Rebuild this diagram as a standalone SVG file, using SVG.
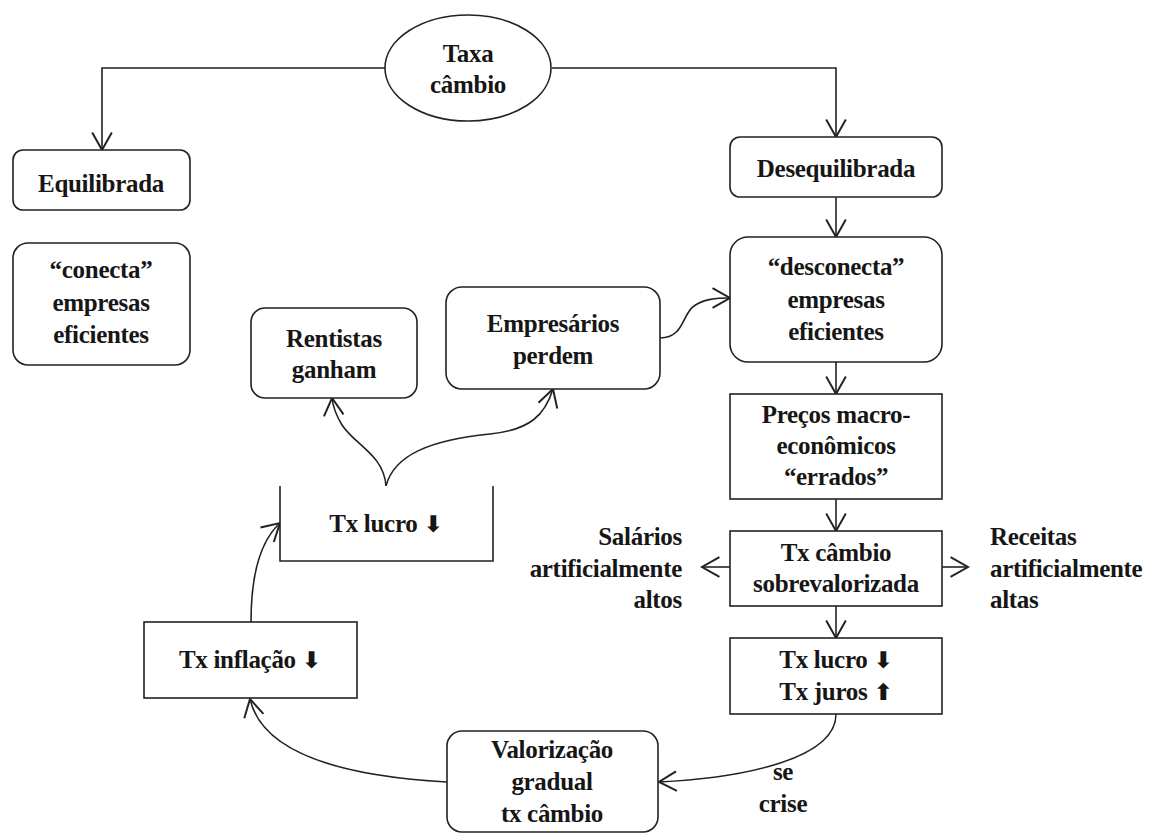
<svg xmlns="http://www.w3.org/2000/svg" width="1149" height="833" viewBox="0 0 1149 833">
<style>
  .box{fill:#fff;stroke:#222;stroke-width:1.6}
  .ln{fill:none;stroke:#222;stroke-width:1.6}
  .t{font-family:'Liberation Serif','Times New Roman',serif;font-weight:bold;font-size:25px;fill:#161616;letter-spacing:-0.3px}
  .c{text-anchor:middle}
  .r{text-anchor:end}
  .ar{font-family:'DejaVu Sans',sans-serif;font-weight:bold;font-size:23px;letter-spacing:0}
</style>
<defs>
  <marker id="ah" markerUnits="userSpaceOnUse" markerWidth="24" markerHeight="24" viewBox="-18 -11 20 22" refX="0" refY="0" orient="auto">
    <path d="M-16,-9 L0,0 L-16,9" fill="none" stroke="#222" stroke-width="1.8"/>
  </marker>
</defs>
<rect width="1149" height="833" fill="#fff"/>

<g id="connectors">
  <path class="ln" d="M385,68 H102 V150" marker-end="url(#ah)"/>
  <path class="ln" d="M552,68 H836 V137" marker-end="url(#ah)"/>
  <path class="ln" d="M836,197 V237" marker-end="url(#ah)"/>
  <path class="ln" d="M836,362 V394" marker-end="url(#ah)"/>
  <path class="ln" d="M836,499 V531" marker-end="url(#ah)"/>
  <path class="ln" d="M836,606 V638" marker-end="url(#ah)"/>
  <path class="ln" d="M730,567 H702" marker-end="url(#ah)"/>
  <path class="ln" d="M942,567 H968" marker-end="url(#ah)"/>
  <path class="ln" d="M660,338 C684,338 682,314 694,306 C704,299 716,298 730,298" marker-end="url(#ah)"/>
  <path class="ln" d="M386,486 C384,455 355,445 342,425 C336,415 333,408 332,398" marker-end="url(#ah)"/>
  <path class="ln" d="M386,486 C394,455 430,440 490,434 C530,430 545,415 553,389" marker-end="url(#ah)"/>
  <path class="ln" d="M836,714 C836,760 740,778 659,782" marker-end="url(#ah)"/>
  <path class="ln" d="M447,782 C340,776 262,752 250,699" marker-end="url(#ah)"/>
  <path class="ln" d="M251,622 C251,585 256,545 280,523" marker-end="url(#ah)"/>
</g>

<g id="taxa-cambio">
  <ellipse class="box" cx="468" cy="68" rx="83" ry="53"/>
  <text class="t c" x="468" y="62">Taxa</text>
  <text class="t c" x="468" y="93">câmbio</text>
</g>

<g id="equilibrada">
  <rect class="box" x="13" y="150" width="177" height="60" rx="10"/>
  <text class="t c" x="101" y="192">Equilibrada</text>
</g>

<g id="conecta">
  <rect class="box" x="13" y="243" width="177" height="122" rx="15"/>
  <text class="t c" x="101" y="278">“conecta”</text>
  <text class="t c" x="101" y="311">empresas</text>
  <text class="t c" x="101" y="343">eficientes</text>
</g>

<g id="desequilibrada">
  <rect class="box" x="730" y="137" width="212" height="60" rx="10"/>
  <text class="t c" x="836" y="177">Desequilibrada</text>
</g>

<g id="desconecta">
  <rect class="box" x="730" y="237" width="212" height="125" rx="18"/>
  <text class="t c" x="836" y="275">“desconecta”</text>
  <text class="t c" x="836" y="308">empresas</text>
  <text class="t c" x="836" y="340">eficientes</text>
</g>

<g id="rentistas">
  <rect class="box" x="251" y="308" width="166" height="90" rx="14"/>
  <text class="t c" x="334" y="347">Rentistas</text>
  <text class="t c" x="334" y="378">ganham</text>
</g>

<g id="empresarios">
  <rect class="box" x="446" y="287" width="214" height="102" rx="16"/>
  <text class="t c" x="553" y="332">Empresários</text>
  <text class="t c" x="553" y="364">perdem</text>
</g>

<g id="tx-lucro-mid">
  <path class="box" d="M280,486 V561 H493 V486"/>
  <text class="t c" x="386" y="532">Tx lucro <tspan class="ar">⬇</tspan></text>
</g>

<g id="precos">
  <rect class="box" x="730" y="394" width="212" height="105"/>
  <text class="t c" x="836" y="423">Preços macro-</text>
  <text class="t c" x="836" y="454">econômicos</text>
  <text class="t c" x="836" y="485">“errados”</text>
</g>

<g id="tx-cambio">
  <rect class="box" x="730" y="531" width="212" height="75"/>
  <text class="t c" x="836" y="561">Tx câmbio</text>
  <text class="t c" x="836" y="592">sobrevalorizada</text>
</g>

<g id="salarios">
  <text class="t r" x="682" y="545">Salários</text>
  <text class="t r" x="682" y="577">artificialmente</text>
  <text class="t r" x="682" y="608">altos</text>
</g>

<g id="receitas">
  <text class="t" x="990" y="545">Receitas</text>
  <text class="t" x="990" y="577">artificialmente</text>
  <text class="t" x="990" y="608">altas</text>
</g>

<g id="tx-lucro-juros">
  <rect class="box" x="730" y="638" width="212" height="76"/>
  <text class="t c" x="836" y="668">Tx lucro <tspan class="ar">⬇</tspan></text>
  <text class="t c" x="836" y="700">Tx juros <tspan class="ar">⬆</tspan></text>
</g>

<g id="se-crise">
  <text class="t c" x="783" y="780">se</text>
  <text class="t c" x="783" y="812">crise</text>
</g>

<g id="valorizacao">
  <rect class="box" x="447" y="731" width="211" height="101" rx="15"/>
  <text class="t c" x="552" y="758">Valorização</text>
  <text class="t c" x="552" y="790">gradual</text>
  <text class="t c" x="552" y="822">tx câmbio</text>
</g>

<g id="tx-inflacao">
  <rect class="box" x="144" y="622" width="213" height="76"/>
  <text class="t c" x="250" y="668">Tx inflação <tspan class="ar">⬇</tspan></text>
</g>
</svg>
